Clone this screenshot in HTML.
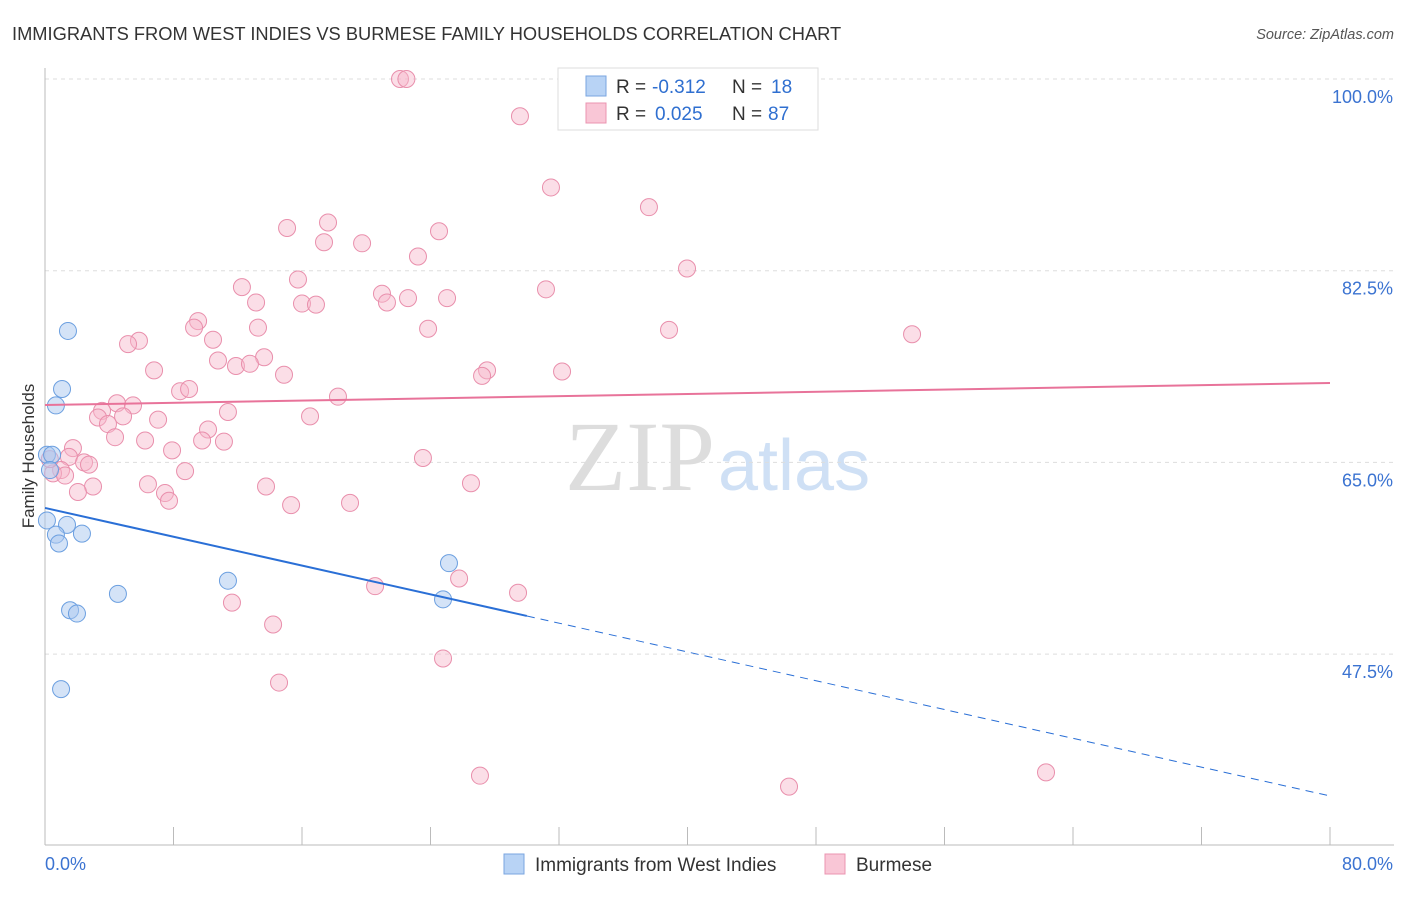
<!DOCTYPE html>
<html><head><meta charset="utf-8"><style>
body{margin:0;background:#fff;font-family:"Liberation Sans",sans-serif}
#wrap{position:relative;width:1406px;height:892px}
</style></head><body>
<div id="wrap">
<svg id="svg" width="1406" height="892" xmlns="http://www.w3.org/2000/svg">
<text x="12" y="40" font-size="18.3" fill="#333">IMMIGRANTS FROM WEST INDIES VS BURMESE FAMILY HOUSEHOLDS CORRELATION CHART</text>
<text x="1394" y="39" font-size="14.5" fill="#555" text-anchor="end" font-style="italic">Source: ZipAtlas.com</text>
<text x="715" y="490" font-size="100" fill="#ddd" text-anchor="end" font-family="Liberation Serif">ZIP</text>
<text x="718" y="490" font-size="72" fill="#cfe0f5">atlas</text>
<text transform="translate(34,456) rotate(-90)" font-size="17" fill="#333" text-anchor="middle">Family Households</text>
<g id="grid"></g><g id="marks"></g>
<g>
<rect x="558" y="68" width="260" height="62" fill="#fff" stroke="#ddd"/>
<rect x="586" y="76" width="20" height="20" fill="#b8d3f5" stroke="#7aa6e0"/>
<rect x="586" y="103" width="20" height="20" fill="#f9c6d6" stroke="#eb94b0"/>
<text x="616" y="93" font-size="19" fill="#333">R =</text>
<text x="652" y="93" font-size="19" fill="#2f6fd0">-0.312</text>
<text x="732" y="93" font-size="19" fill="#333">N =</text>
<text x="771" y="93" font-size="19" fill="#2f6fd0">18</text>
<text x="616" y="120" font-size="19" fill="#333">R =</text>
<text x="655" y="120" font-size="19" fill="#2f6fd0">0.025</text>
<text x="732" y="120" font-size="19" fill="#333">N =</text>
<text x="768" y="120" font-size="19" fill="#2f6fd0">87</text>
</g>
<g>
<rect x="504" y="854" width="20" height="20" fill="#b8d3f5" stroke="#7aa6e0"/>
<text x="535" y="871" font-size="19" fill="#333">Immigrants from West Indies</text>
<rect x="825" y="854" width="20" height="20" fill="#f9c6d6" stroke="#eb94b0"/>
<text x="856" y="871" font-size="19" fill="#333">Burmese</text>
</g>
</svg></div>
<script>
const yTicks=[100,82.5,65,47.5];
const yTickLabels=["100.0%","82.5%","65.0%","47.5%"];
const xTicks=[0,8,16,24,32,40,48,56,64,72,80];
const blueX=[0.12,0.44,1.43,1.06,0.68,0.12,1.37,0.68,0.87,2.30,4.54,1.56,1.99,1.00,11.39,25.15,24.78,0.31];
const blueY=[65.7,65.7,77.0,71.7,70.2,59.7,59.3,58.4,57.6,58.5,53.0,51.5,51.2,44.3,54.2,55.8,52.5,64.3];
const pinkX=[22.1,22.5,29.57,31.5,37.6,15.07,17.62,17.37,19.74,24.53,23.22,39.97,15.75,12.26,20.98,22.6,25.03,31.19,13.14,16.0,16.87,21.29,9.53,9.28,13.26,23.85,38.85,53.98,5.85,5.17,10.46,13.64,10.77,11.89,12.76,6.79,27.52,27.21,32.19,14.88,8.41,8.97,18.24,4.48,5.48,3.55,11.39,16.5,3.30,4.86,7.04,3.92,10.15,4.36,6.23,9.78,11.14,7.91,1.74,1.49,23.53,2.43,2.74,8.72,1.0,0.5,1.25,2.99,6.41,26.52,13.76,2.05,7.47,7.72,15.32,18.99,25.78,20.55,29.45,11.64,14.2,24.78,14.57,27.08,46.32,62.32,0.3];
const pinkY=[100,100,96.6,90.1,88.3,86.4,86.9,85.1,85.0,86.1,83.8,82.7,81.7,81.0,80.4,80.0,80.0,80.8,79.6,79.5,79.4,79.6,77.9,77.3,77.3,77.2,77.1,76.7,76.1,75.8,76.2,74.6,74.3,73.8,74.0,73.4,73.4,72.9,73.3,73.0,71.5,71.7,71.0,70.4,70.2,69.7,69.6,69.2,69.1,69.2,68.9,68.5,68.0,67.3,67.0,67.0,66.9,66.1,66.3,65.5,65.4,65.0,64.8,64.2,64.3,64.0,63.8,62.8,63.0,63.1,62.8,62.3,62.2,61.5,61.1,61.3,54.4,53.7,53.1,52.2,50.2,47.1,44.9,36.4,35.4,36.7,65.3];
const blueTrend=[60.84,34.55], blueSolidEnd=30.0;
const pinkTrend=[70.24,72.25];
const X=v=>45+v/80*1285, Y=v=>79+(100-v)*10.954;
const NS="http://www.w3.org/2000/svg";
function mk(p,tag,a){const e=document.createElementNS(NS,tag);for(const k in a)e.setAttribute(k,a[k]);p.appendChild(e);return e;}
const g=document.getElementById('grid'), m=document.getElementById('marks');
yTicks.forEach((t,i)=>{
 const l=mk(g,'line',{x1:45,x2:1394,y1:Y(t),y2:Y(t),stroke:'#ddd','stroke-dasharray':'4,4'});
 
 
 const tx=mk(g,'text',{x:1393,y:Y(t)+24,'font-size':18,fill:'#3b73d1','text-anchor':'end'});tx.textContent=yTickLabels[i];
 
 
});
const ax=mk(g,'line',{x1:45,x2:1394,y1:845,y2:845,stroke:'#bbb'});


const ay=mk(g,'line',{x1:45,x2:45,y1:68,y2:845,stroke:'#bbb'});


xTicks.forEach(t=>{const l=mk(g,'line',{x1:X(t),x2:X(t),y1:827,y2:845,stroke:'#bbb'});
 
 });
[[0,"0.0%","start",45],[80,"80.0%","end",1393]].forEach(a=>{const t=mk(g,'text',{x:a[3],y:870,'font-size':18,fill:'#3b73d1','text-anchor':a[2]});t.textContent=a[1];
 
 });
pinkX.forEach((x,i)=>{const c=mk(m,'circle',{cx:X(x),cy:Y(pinkY[i]),r:8.5,fill:'#f7b6ca','fill-opacity':0.45,stroke:'#e98fac','stroke-width':1});
 
 });
blueX.forEach((x,i)=>{const c=mk(m,'circle',{cx:X(x),cy:Y(blueY[i]),r:8.5,fill:'#a9c8f0','fill-opacity':0.5,stroke:'#6b9fe0','stroke-width':1});
 
 });
const by=x=>blueTrend[0]+(blueTrend[1]-blueTrend[0])*x/80;
let l=mk(m,'line',{x1:X(0),y1:Y(by(0)),x2:X(blueSolidEnd),y2:Y(by(blueSolidEnd)),stroke:'#2a6fd6','stroke-width':2});


l=mk(m,'line',{x1:X(blueSolidEnd),y1:Y(by(blueSolidEnd)),x2:X(80),y2:Y(by(80)),stroke:'#2a6fd6','stroke-width':1,'stroke-dasharray':'8,6'});


l=mk(m,'line',{x1:X(0),y1:Y(pinkTrend[0]),x2:X(80),y2:Y(pinkTrend[1]),stroke:'#e8739a','stroke-width':2});


</script>
</body></html>
